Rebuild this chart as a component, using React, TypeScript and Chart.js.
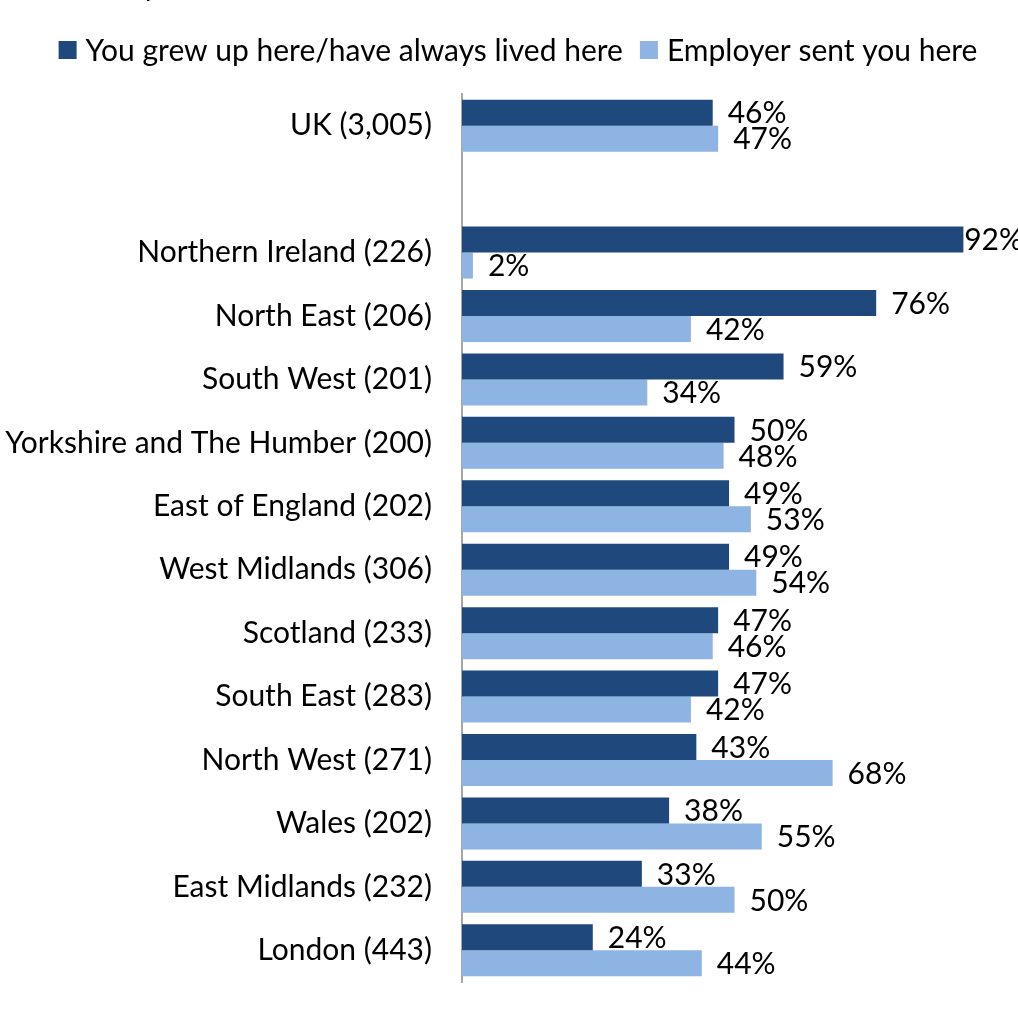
import React, { useEffect, useRef } from "react";
import { Chart, registerables } from "chart.js";

Chart.register(...registerables);

const categories = [
  "UK (3,005)",
  "",
  "Northern Ireland (226)",
  "North East (206)",
  "South West (201)",
  "Yorkshire and The Humber (200)",
  "East of England (202)",
  "West Midlands (306)",
  "Scotland (233)",
  "South East (283)",
  "North West (271)",
  "Wales (202)",
  "East Midlands (232)",
  "London (443)",
];
const grewUp = [46, null, 92, 76, 59, 50, 49, 49, 47, 47, 43, 38, 33, 24];
const employerSent = [47, null, 2, 42, 34, 48, 53, 54, 46, 42, 68, 55, 50, 44];
const seriesNames = ["You grew up here/have always lived here", "Employer sent you here"];
const colors = ["#1F497D", "#8DB4E2"];
const FONT = "Lato, 'Open Sans', sans-serif";
const FS = 30;

const labelPlugin = {
  id: "barLabels",
  afterDatasetsDraw(chart: any) {
    const ctx = chart.ctx;
    ctx.save();
    ctx.font = `${FS}px ${FONT}`;
    ctx.fillStyle = "#000";
    ctx.textAlign = "left";
    ctx.textBaseline = "middle";
    chart.data.datasets.forEach((ds: any, i: number) => {
      const meta = chart.getDatasetMeta(i);
      meta.data.forEach((el: any, j: number) => {
        const v = ds.data[j];
        if (v == null) return;
        const text = `${v}%`;
        const w = ctx.measureText(text).width;
        const x = Math.min(el.x + 15, chart.width + 5 - w);
        ctx.fillText(text, x, el.y + 1);
      });
    });
    ctx.restore();
  },
};

const legendPlugin = {
  id: "customLegend",
  afterDraw(chart: any) {
    const ctx = chart.ctx;
    ctx.save();
    ctx.font = `${FS}px ${FONT}`;
    ctx.textBaseline = "middle";
    ctx.textAlign = "left";
    const box = 18;
    const gapText = 9;
    const gapItem = 17;
    const widths = chart.data.datasets.map((d: any) => ctx.measureText(d.label).width);
    const total = widths.reduce((a: number, w: number) => a + box + gapText + w, 0) + gapItem * (widths.length - 1);
    let x = chart.width / 2 + 9 - total / 2;
    const cy = 50;
    chart.data.datasets.forEach((d: any, i: number) => {
      ctx.fillStyle = d.backgroundColor;
      ctx.fillRect(x, cy - box / 2, box, box);
      x += box + gapText;
      ctx.fillStyle = "#000";
      ctx.fillText(d.label, x, cy + 1);
      x += widths[i] + gapItem;
    });
    // clipped title fragment at the very top
    ctx.font = `italic ${FS}px ${FONT}`;
    ctx.fillText("y", 145, -14);
    ctx.restore();
  },
};

export default function App() {
  const ref = useRef<HTMLCanvasElement>(null);
  useEffect(() => {
    if (!ref.current) return;
    const chart = new Chart(ref.current, {
      type: "bar",
      data: {
        labels: categories,
        datasets: [
          { label: seriesNames[0], data: grewUp, backgroundColor: colors[0] },
          { label: seriesNames[1], data: employerSent, backgroundColor: colors[1] },
        ],
      },
      options: {
        indexAxis: "y",
        animation: false,
        responsive: false,
        maintainAspectRatio: false,
        layout: { padding: { top: 0, right: 11, bottom: 0, left: 0 } },
        datasets: { bar: { categoryPercentage: 0.82, barPercentage: 1 } },
        scales: {
          x: {
            min: 0,
            max: 100,
            display: false,
            grid: { display: false },
          },
          y: {
            grid: { display: false, drawTicks: false },
            border: { display: true, color: "#A6A6A6", width: 2 },
            ticks: { font: { size: FS, family: FONT }, color: "#000", padding: 30 },
            afterFit(scale: any) {
              scale.width = 462;
              scale.paddingTop = 94;
              scale.paddingBottom = 28;
            },
          },
        },
        plugins: {
          legend: { display: false },
          tooltip: { enabled: false },
        },
      },
      plugins: [labelPlugin, legendPlugin],
    });
    return () => chart.destroy();
  }, []);
  return (
    <div style={{ position: "absolute", left: 0, top: 0, width: 1018, height: 1010, background: "#fff" }}>
      <canvas ref={ref} width={1018} height={1010} />
    </div>
  );
}
